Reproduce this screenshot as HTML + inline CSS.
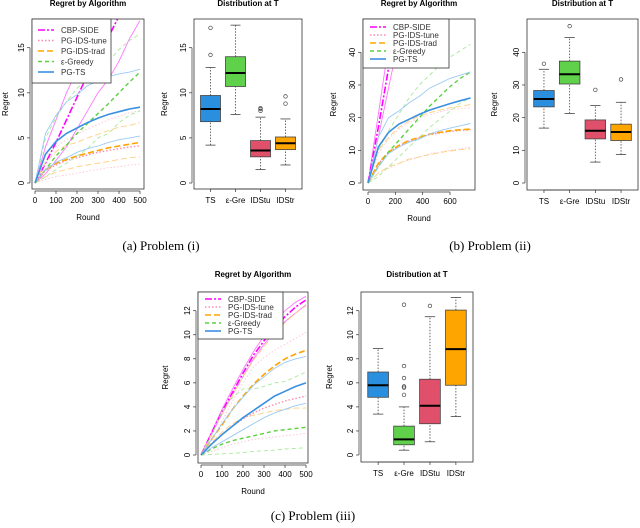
<!DOCTYPE html>
<html><head><meta charset="utf-8">
<style>
html,body{margin:0;padding:0;background:#fff;}
svg{display:block;font-family:"Liberation Sans",sans-serif;}
.cap{font-family:"Liberation Serif",serif;font-size:13px;}
</style></head>
<body>
<svg id="fig" width="640" height="528" viewBox="0 0 640 528"></svg>
<script>
// ---------- Data ----------
const roundsA = [0,50,100,150,200,250,300,350,400,450,500];
const roundsB = [0,75,150,225,300,375,450,525,600,675,750];
const seriesNames = ['CBP-SIDE','PG-IDS-tune','PG-IDS-trad','\u03b5-Greedy','PG-TS'];
const boxCats = ['TS','\u03b5-Gre','IDStu','IDStr'];

// Problem (i)
const p1CbpMean=[0,2.2,4.5,7,9.5,12,14,16.2,18.5,20.5,22.5];
const p1CbpHi=[0,4,7,10,12.5,15,17,19,21,23,25];
const p1CbpLo=[0,1,2.5,4,6,8,10,11.5,13.5,16,18];
const p1TuneMean=[0,1.4,2,2.5,2.8,3.1,3.4,3.6,3.8,4,4.1];
const p1TuneHi=[0,3,4,4.8,5.4,6,6.5,7,7.4,7.8,8];
const p1TuneLo=[0,0.4,0.7,0.9,1.1,1.3,1.5,1.7,1.8,2,2.1];
const p1TradMean=[0,1.5,2.2,2.6,3,3.3,3.6,3.9,4.1,4.3,4.5];
const p1TradHi=[0,2.3,3.5,4.2,4.5,5,5.4,5.8,6.2,6.4,6.7];
const p1TradLo=[0,0.7,1.2,1.5,1.8,2,2.2,2.4,2.6,2.8,2.9];
const p1GreMean=[0,1.5,3,4.2,5.5,6.6,7.7,8.8,10,11.2,12.3];
const p1GreHi=[0,5,7.3,9,10.5,11.5,12.5,13.5,14.8,15.8,16.5];
const p1GreLo=[0,0.7,1.5,2.2,3,3.8,5,5.5,6.7,7.5,8];
const p1TsMean=[0,3.2,4.6,5.5,6.1,6.7,7.2,7.6,7.9,8.2,8.4];
const p1TsHi=[0,5.5,7.5,9,9.8,10.8,11.3,11.8,12.1,12.3,12.6];
const p1TsLo=[0,1.5,2.3,2.8,3.4,3.8,4.1,4.5,4.8,5,5.2];
const p1YTicks=[0,5,10,15];
const p1XTicks=[0,100,200,300,400,500];
const p1Box=[[4.2,6.8,8.2,9.7,12.8],[7.6,10.7,12.2,14,17.5],[1.5,2.9,3.6,4.7,7.3],[2,3.7,4.4,5.1,7.1]];
const p1Out=[[14.2,17.2],[],[8,8.2,8.3],[8.8,9.6]];

// Problem (ii)
const p2CbpMean=[0,17,35,52,70,87,105,122,140,157,175];
const p2CbpHi=[0,21,42,63,84,105,126,147,168,189,210];
const p2CbpLo=[0,14,29,44,58,73,88,102,117,131,146];
const p2TuneMean=[0,5.8,9.3,11.3,12.8,13.8,14.8,15.3,15.8,16.1,16.3];
const p2TuneHi=[0,9,13.5,16.5,18.5,20,21,21.8,22.5,22.8,23];
const p2TuneLo=[0,3,4.5,6,7,8,8.8,9.5,10,10.5,11];
const p2TradMean=[0,6,9.5,11.5,13,14,15,15.5,16,16.3,16.5];
const p2TradHi=[0,10,14,17,19,20.5,21.5,22.3,23,23.5,24];
const p2TradLo=[0,3,5,6,7.3,8,8.7,9.3,9.8,10.2,10.5];
const p2GreMean=[0,5,9.5,13,16.5,20,23.5,26.5,29.5,32,34];
const p2GreHi=[0,10,16,21,26,30,33,36,38.5,40.5,42.5];
const p2GreLo=[0,2,5,8,11,14,17,19.5,22,24.5,26];
const p2TsMean=[0,11,15.5,18,19.5,21,22.3,23.3,24.3,25.2,26];
const p2TsHi=[0,14,20,22,24.5,26.5,29,30.5,32,33,34];
const p2TsLo=[0,5,9,11,12.5,13.5,15,16,16.8,17.5,18.2];
const p2YTicks=[0,10,20,30,40];
const p2XTicks=[0,200,400,600];
const p2Box=[[16.8,23.3,25.7,28.3,34.8],[21.3,30.3,33.3,37.3,44.5],[6.4,13.5,16,19.3,23.7],[8.7,13,15.6,18,24.7]];
const p2Out=[[36.5],[48],[28.5],[31.7]];

// Problem (iii)
const p3CbpMean=[0,1.8,3.6,5.2,6.8,8.3,9.5,10.6,11.5,12.3,12.9];
const p3CbpHi=[0,1.9,3.8,5.5,7.1,8.6,9.9,11,12,12.7,13.2];
const p3CbpLo=[0,1.7,3.4,5,6.5,8,9.2,10.2,11.1,11.8,12.5];
const p3TuneMean=[0,0.9,1.7,2.4,3,3.5,3.9,4.2,4.5,4.7,4.9];
const p3TuneHi=[0,1.2,2.8,4.5,6,7.3,8.1,8.7,9.2,9.7,10.2];
const p3TuneLo=[0,0.3,0.6,0.9,1.1,1.3,1.4,1.5,1.6,1.7,1.8];
const p3TradMean=[0,1.3,2.5,3.8,4.9,5.9,6.7,7.4,8,8.4,8.7];
const p3TradHi=[0,1.7,3.4,5,6.5,7.9,9,10.1,11,11.8,12.4];
const p3TradLo=[0,1,1.9,2.6,3.1,3.3,3.5,3.7,3.8,3.9,3.9];
const p3GreMean=[0,0.5,0.9,1.2,1.4,1.6,1.8,2,2.1,2.2,2.3];
const p3GreHi=[0,1.6,3.6,4.8,5.5,5.5,5.7,6,6.1,6.5,6.9];
const p3GreLo=[0,0.05,0.1,0.15,0.2,0.3,0.35,0.4,0.5,0.55,0.6];
const p3TsMean=[0,0.9,1.7,2.4,3.1,3.7,4.3,4.9,5.3,5.7,6];
const p3TsHi=[0,1.3,2.6,3.8,4.8,5.8,6.5,7.2,7.7,8,8.2];
const p3TsLo=[0,0.6,1.1,1.6,2.1,2.6,3.1,3.5,3.8,4.1,4.3];
const p3YTicks=[0,2,4,6,8,10,12];
const p3XTicks=[0,100,200,300,400,500];
const p3Box=[[3.4,4.8,5.8,6.9,8.85],[0.4,0.85,1.3,2.4,4],[1.1,2.6,4.1,6.3,11.5],[3.2,5.8,8.8,12.05,13.1]];
const p3Out=[[],[5,5.6,5.7,6.4,7.4,12.5],[12.4],[]];

// ---------- Styles ----------
const lineStyle=[
 {c:'#ff00ff',lc:'#ff77ff',d:'7,2,2,2',w:1.6},
 {c:'#ff8aa8',lc:'#ffc4d2',d:'1.5,2',w:1.4},
 {c:'#ffa500',lc:'#ffcf80',d:'6,3',w:1.6},
 {c:'#5cd040',lc:'#a8e89a',d:'4,3',w:1.4},
 {c:'#3a90e0',lc:'#9ccaf2',d:'',w:1.6}];
const boxFill=['#2b8fe0','#5fd14a','#e0506a','#ffa500'];

const NS='http://www.w3.org/2000/svg';
const svg=document.getElementById('fig');
function mk(tag,attrs,parent){const e=document.createElementNS(NS,tag);for(const k in attrs)e.setAttribute(k,attrs[k]);(parent||svg).appendChild(e);return e;}
function txt(x,y,s,opts,parent){const t=mk('text',Object.assign({x:x,y:y,'font-size':8,'text-anchor':'middle',fill:'#000'},opts||{}),parent);t.textContent=s;return t;}

let clipId=0;
function linePanel(P,name){
 const g=mk('g',{});
 
 
 const sx=v=>P.x0+(v-P.xmin)/(P.xmax-P.xmin)*(P.x1-P.x0);
 const sy=v=>P.y0-(v)/(P.ymax)*(P.y0-P.y1);
 const id='clip'+(clipId++);
 const cp=mk('clipPath',{id:id},g);mk('rect',{x:P.fl,y:P.ft,width:P.fr-P.fl,height:P.fb-P.ft},cp);
 const lines=mk('g',{'clip-path':'url(#'+id+')'},g);
 P.series.forEach((trio,i)=>{
  const st=lineStyle[i];
  [[trio[1],st.lc,0.9],[trio[2],st.lc,0.9],[trio[0],st.c,st.w]].forEach((s,j)=>{
   const pts=s[0].map((v,k)=>sx(P.xs[k]).toFixed(1)+','+sy(v).toFixed(1)).join(' ');
   const pl=mk('polyline',{points:pts,fill:'none',stroke:s[1],'stroke-width':s[2],'stroke-dasharray':j==2?st.d:(i==0||i==4?'':st.d)},lines);
   
   
  });
 });
 mk('rect',{x:P.fl,y:P.ft,width:P.fr-P.fl,height:P.fb-P.ft,fill:'none',stroke:'#333','stroke-width':0.8},g);
 const ax=P.fb+2;
 mk('line',{x1:sx(P.xt[0]),x2:sx(P.xt[P.xt.length-1]),y1:ax,y2:ax,stroke:'#333','stroke-width':0.7},g);
 P.xt.forEach(v=>{mk('line',{x1:sx(v),x2:sx(v),y1:ax,y2:ax+3,stroke:'#333','stroke-width':0.7},g);txt(sx(v),ax+12,String(v),{},g);});
 const ay=P.fl-2;
 mk('line',{x1:ay,x2:ay,y1:sy(P.yt[0]),y2:sy(P.yt[P.yt.length-1]),stroke:'#333','stroke-width':0.7},g);
 P.yt.forEach(v=>{mk('line',{x1:ay-3,x2:ay,y1:sy(v),y2:sy(v),stroke:'#333','stroke-width':0.7},g);txt(ay-6,sy(v),String(v),{transform:'rotate(-90 '+(ay-6)+' '+sy(v)+')'},g);});
 txt((P.fl+P.fr)/2,P.titleY,'Regret by Algorithm',{'font-weight':'bold'},g);
 txt((P.fl+P.fr)/2,ax+29,'Round',{},g);
 txt(P.ylabX,(P.ft+P.fb)/2,'Regret',{transform:'rotate(-90 '+P.ylabX+' '+((P.ft+P.fb)/2)+')'},g);
 const L=P.leg;const lg=mk('g',{},g);
 
 
 mk('rect',{x:L.x,y:P.ft,width:L.w,height:L.h,fill:'#fff',stroke:'#333','stroke-width':0.8},lg);
 seriesNames.forEach((s,i)=>{const y=P.ft+L.top+i*L.gap;const st=lineStyle[i];
  mk('line',{x1:L.sx,x2:L.sx+16,y1:y,y2:y,stroke:st.c,'stroke-width':st.w,'stroke-dasharray':st.d},lg);
  txt(L.sx+23,y+3,s,{'text-anchor':'start',fill:'#333'},lg);});
}

function boxPanel(P,name){
 const g=mk('g',{});
 
 
 const sy=v=>P.y0-v/P.ymax*(P.y0-P.y1);
 const step=(P.fr-P.fl)/4.32;const cx=i=>P.fl+step*(0.66+i);
 const bw=step*0.8;
 P.box.forEach((b,i)=>{const x=cx(i);
  const bg=mk('g',{},g);
  
  
  mk('line',{x1:x,x2:x,y1:sy(b[0]),y2:sy(b[1]),stroke:'#444','stroke-dasharray':'1.5,1.5','stroke-width':0.8},bg);
  mk('line',{x1:x,x2:x,y1:sy(b[3]),y2:sy(b[4]),stroke:'#444','stroke-dasharray':'1.5,1.5','stroke-width':0.8},bg);
  mk('line',{x1:x-bw/4,x2:x+bw/4,y1:sy(b[0]),y2:sy(b[0]),stroke:'#444','stroke-width':0.8},bg);
  mk('line',{x1:x-bw/4,x2:x+bw/4,y1:sy(b[4]),y2:sy(b[4]),stroke:'#444','stroke-width':0.8},bg);
  mk('rect',{x:x-bw/2,y:sy(b[3]),width:bw,height:sy(b[1])-sy(b[3]),fill:boxFill[i],stroke:'#444','stroke-width':0.8},bg);
  mk('line',{x1:x-bw/2,x2:x+bw/2,y1:sy(b[2]),y2:sy(b[2]),stroke:'#000','stroke-width':2},bg);
  P.out[i].forEach(o=>mk('circle',{cx:x,cy:sy(o),r:1.8,fill:'none',stroke:'#444','stroke-width':0.7},bg));
  txt(x,P.fb+14,boxCats[i],{},g);
  mk('line',{x1:x,x2:x,y1:P.fb,y2:P.fb+3,stroke:'#333','stroke-width':0.7},g);
 });
 mk('line',{x1:cx(0),x2:cx(3),y1:P.fb,y2:P.fb,stroke:'#333','stroke-width':0.7},g);
 mk('rect',{x:P.fl,y:P.ft,width:P.fr-P.fl,height:P.fb-P.ft,fill:'none',stroke:'#333','stroke-width':0.8},g);
 const ay=P.fl-2;
 P.yt.forEach(v=>{mk('line',{x1:ay-3,x2:ay,y1:sy(v),y2:sy(v),stroke:'#333','stroke-width':0.7},g);txt(ay-6,sy(v),String(v),{transform:'rotate(-90 '+(ay-6)+' '+sy(v)+')'},g);});
 mk('line',{x1:ay,x2:ay,y1:sy(P.yt[0]),y2:sy(P.yt[P.yt.length-1]),stroke:'#333','stroke-width':0.7},g);
 txt((P.fl+P.fr)/2,P.titleY,'Distribution at T',{'font-weight':'bold'},g);
 txt(P.ylabX,(P.ft+P.fb)/2,'Regret',{transform:'rotate(-90 '+P.ylabX+' '+((P.ft+P.fb)/2)+')'},g);
}

linePanel({fl:32,fr:144,ft:19,fb:189,x0:35,x1:140,xmin:0,xmax:500,y0:183,y1:47.7,ymax:15,xs:roundsA,xt:p1XTicks,yt:p1YTicks,titleY:6,ylabX:8,
 series:[[p1CbpMean,p1CbpHi,p1CbpLo],[p1TuneMean,p1TuneHi,p1TuneLo],[p1TradMean,p1TradHi,p1TradLo],[p1GreMean,p1GreHi,p1GreLo],[p1TsMean,p1TsHi,p1TsLo]],
 leg:{x:32,w:79,h:64,top:11,gap:10.5,sx:38}},'problem-1');
boxPanel({fl:194,fr:302,ft:19,fb:189,y0:183,y1:47.7,ymax:15,yt:p1YTicks,box:p1Box,out:p1Out,titleY:6,ylabX:167},'problem-1');
linePanel({fl:363,fr:475,ft:19,fb:190,x0:368,x1:470.5,xmin:0,xmax:750,y0:183,y1:52.3,ymax:40,xs:roundsB,xt:p2XTicks,yt:p2YTicks,titleY:6,ylabX:336,
 series:[[p2CbpMean,p2CbpHi,p2CbpLo],[p2TuneMean,p2TuneHi,p2TuneLo],[p2TradMean,p2TradHi,p2TradLo],[p2GreMean,p2GreHi,p2GreLo],[p2TsMean,p2TsHi,p2TsLo]],
 leg:{x:363,w:86,h:49,top:8,gap:8,sx:370}},'problem-2');
boxPanel({fl:527,fr:638,ft:19,fb:190,y0:183,y1:52.3,ymax:40,yt:p2YTicks,box:p2Box,out:p2Out,titleY:6,ylabX:497},'problem-2');
linePanel({fl:198,fr:308,ft:292,fb:463,x0:201,x1:306,xmin:0,xmax:500,y0:455,y1:310.7,ymax:12,xs:roundsA,xt:p3XTicks,yt:p3YTicks,titleY:277,ylabX:168,
 series:[[p3CbpMean,p3CbpHi,p3CbpLo],[p3TuneMean,p3TuneHi,p3TuneLo],[p3TradMean,p3TradHi,p3TradLo],[p3GreMean,p3GreHi,p3GreLo],[p3TsMean,p3TsHi,p3TsLo]],
 leg:{x:198,w:85,h:47,top:7,gap:8,sx:205}},'problem-3');
boxPanel({fl:361,fr:473,ft:292,fb:462,y0:455,y1:310.7,ymax:12,yt:p3YTicks,box:p3Box,out:p3Out,titleY:277,ylabX:332},'problem-3');

[[161,250,'(a) Problem (i)'],[490,250,'(b) Problem (ii)'],[313,520,'(c) Problem (iii)']].forEach((c,i)=>{
 const t=txt(c[0],c[1],c[2],{'font-size':13,class:'cap'});
 
 
});
</script>
</body></html>
